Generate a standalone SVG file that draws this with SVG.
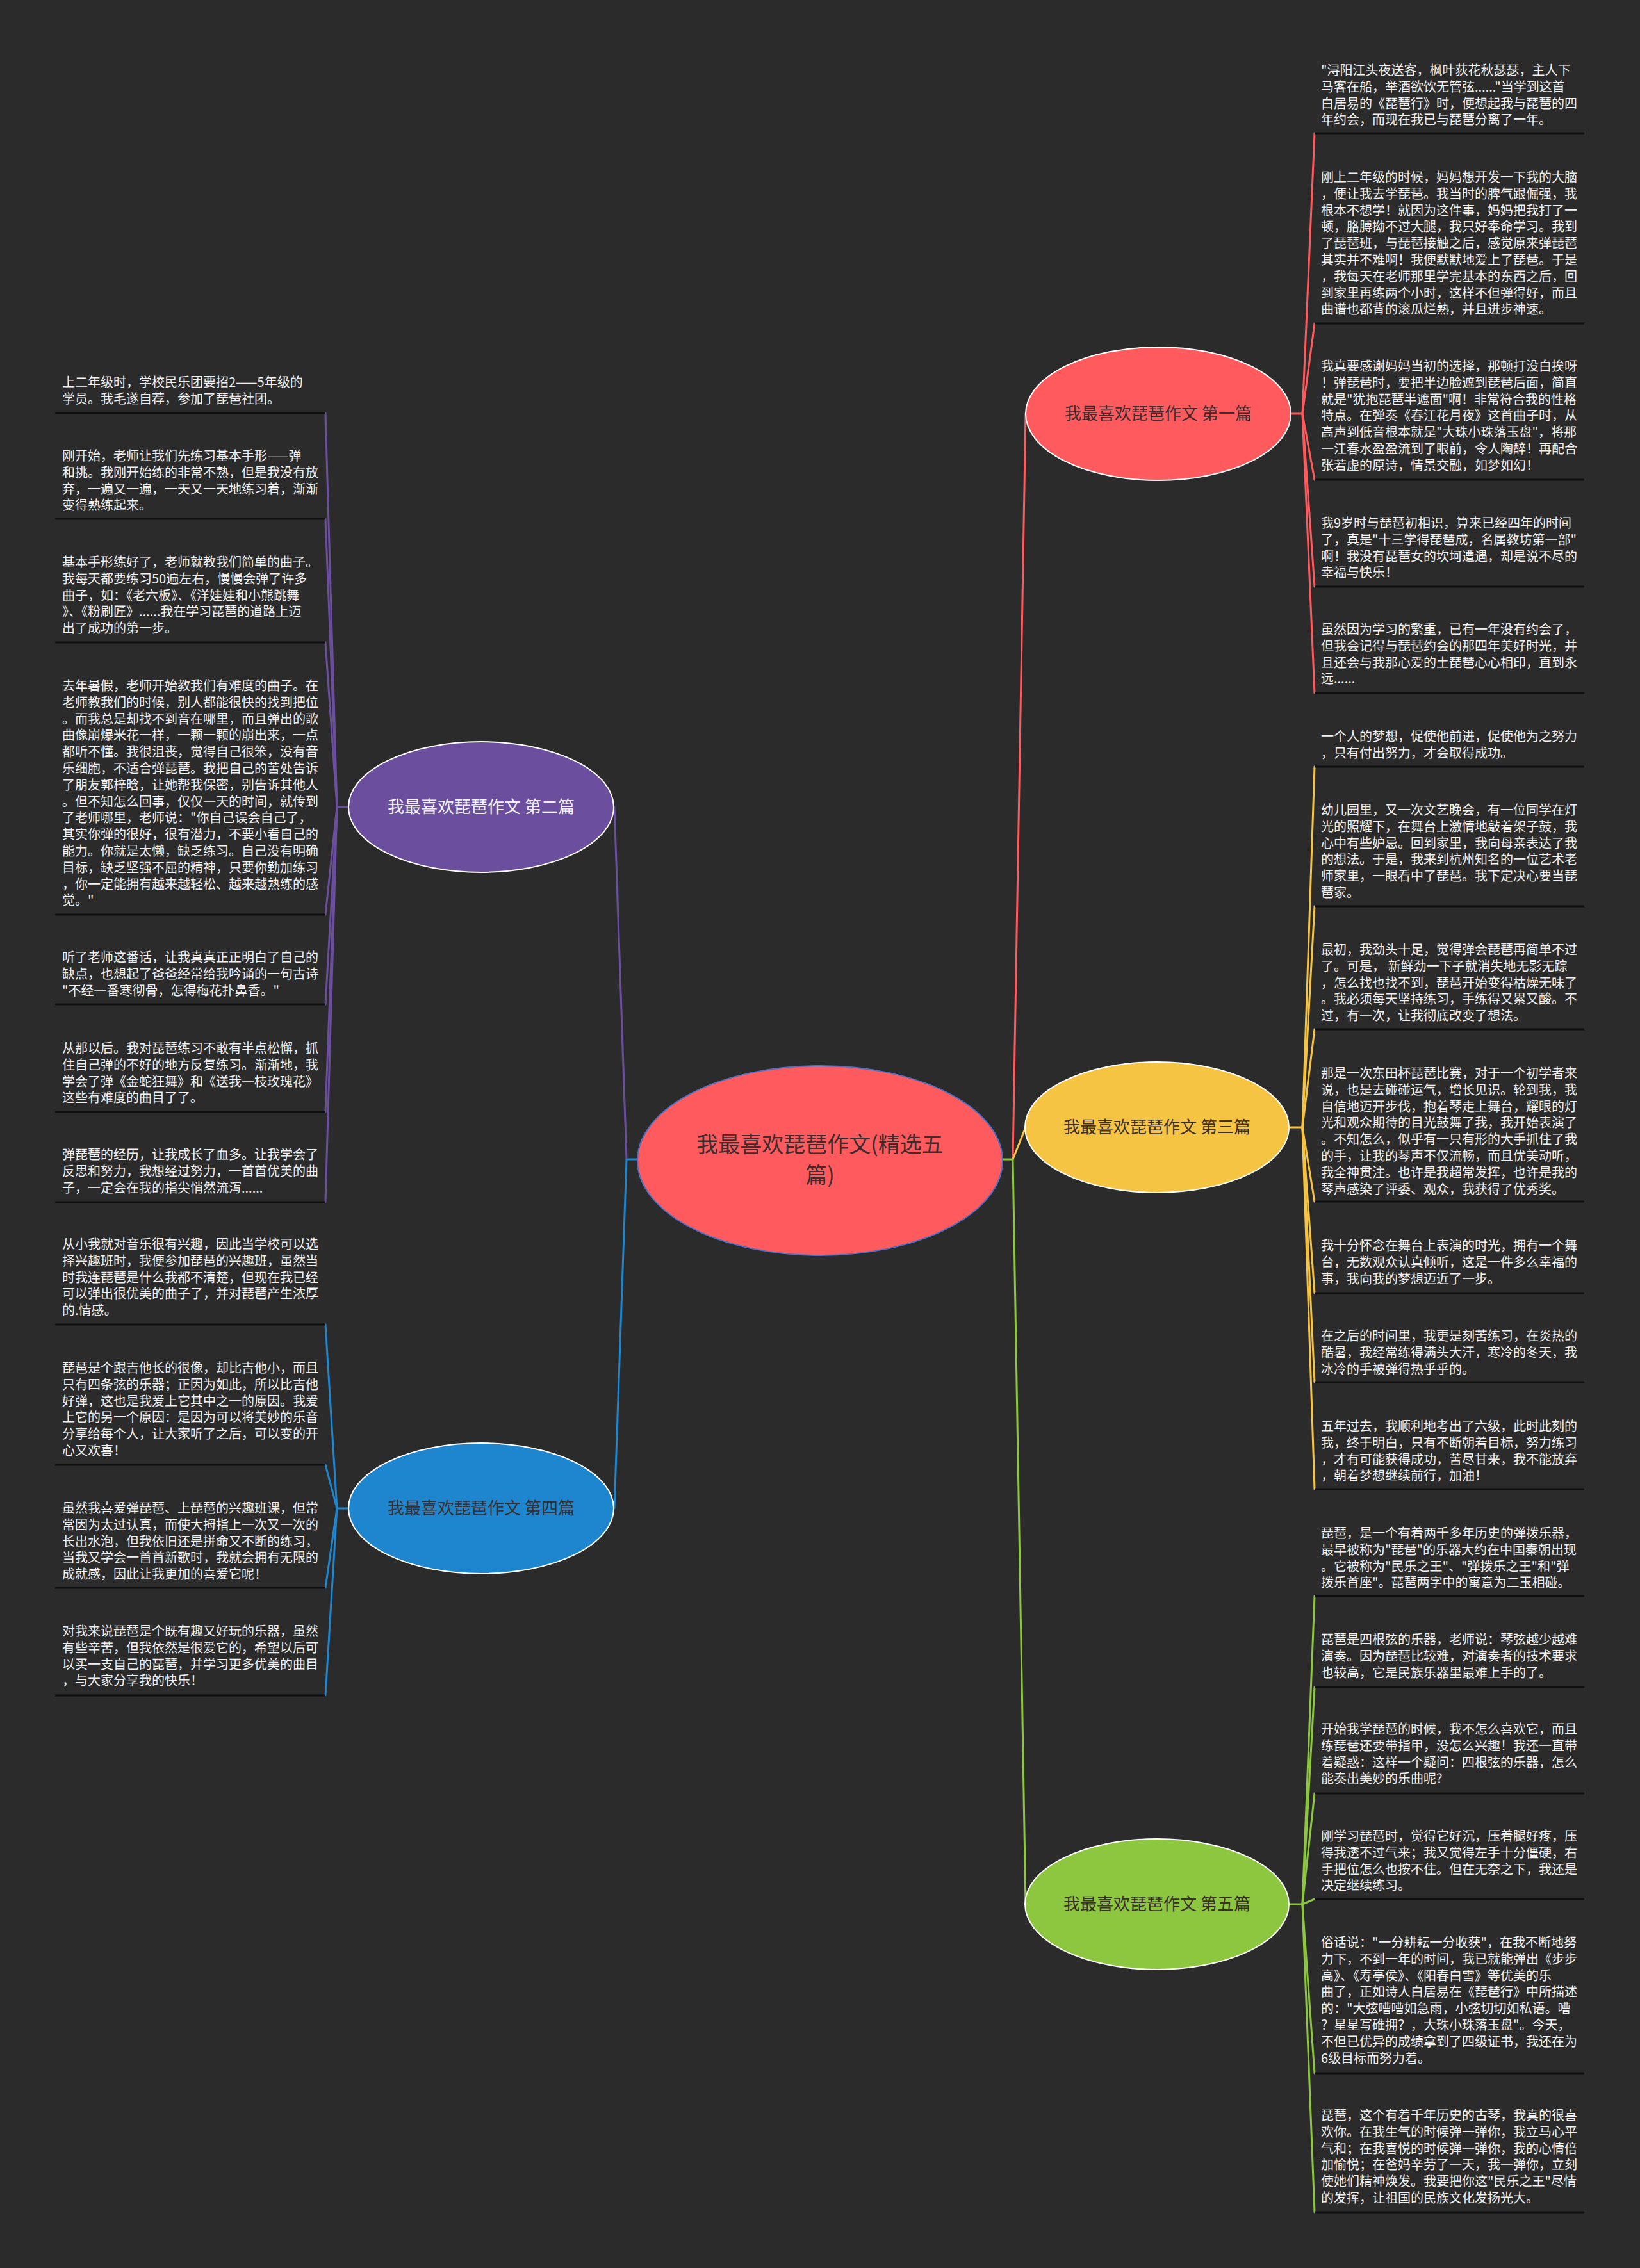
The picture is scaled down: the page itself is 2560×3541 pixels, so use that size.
<svg xmlns="http://www.w3.org/2000/svg" width="2560" height="3541" viewBox="0 0 2560 3541">
<style>
.t{font-family:"Noto Sans CJK SC","Noto Sans",sans-serif;font-size:20px;fill:#f2f2f2}
.nt{font-family:"Noto Sans CJK SC","Noto Sans",sans-serif;font-size:26px;fill:#3a2e2e;text-anchor:middle}
.ct{font-family:"Noto Sans CJK SC","Noto Sans",sans-serif;font-size:34px;fill:#3a2e2e;text-anchor:middle}
.ul{stroke:#0e0e0e;stroke-width:3}
.c{fill:none;stroke-width:3;stroke-linecap:round}
.red{stroke:#FF5A5E}.yel{stroke:#F6C443}.grn{stroke:#8DC63F}.pur{stroke:#6B4F9E}.blu{stroke:#1E86CF}
</style>
<rect width="2560" height="3541" fill="#2b2b2b"/>
<g id="connectors">
<line class="c blu" x1="995" y1="1810" x2="978" y2="1810"/>
<line class="c pur" x1="978" y1="1810" x2="959" y2="1260"/>
<line class="c blu" x1="978" y1="1810" x2="959" y2="2355"/>
<line class="c red" x1="1581" y1="1810" x2="1601" y2="646"/>
<line class="c yel" x1="1581" y1="1810" x2="1601" y2="1760"/>
<line class="c grn" x1="1581" y1="1810" x2="1601" y2="2973"/>
<line class="c grn" x1="1565" y1="1810" x2="1581" y2="1810"/>
<g class="c red">
<line x1="2015" y1="646" x2="2033" y2="646"/>
<line x1="2033" y1="646" x2="2052" y2="208"/>
<line x1="2033" y1="646" x2="2052" y2="505"/>
<line x1="2033" y1="646" x2="2052" y2="749"/>
<line x1="2033" y1="646" x2="2052" y2="916"/>
<line x1="2033" y1="646" x2="2052" y2="1082"/>
</g>
<g class="c yel">
<line x1="2011" y1="1760" x2="2033" y2="1760"/>
<line x1="2033" y1="1760" x2="2052" y2="1197"/>
<line x1="2033" y1="1760" x2="2052" y2="1415"/>
<line x1="2033" y1="1760" x2="2052" y2="1607"/>
<line x1="2033" y1="1760" x2="2052" y2="1876"/>
<line x1="2033" y1="1760" x2="2052" y2="2019"/>
<line x1="2033" y1="1760" x2="2052" y2="2158"/>
<line x1="2033" y1="1760" x2="2052" y2="2325"/>
</g>
<g class="c grn">
<line x1="2011" y1="2973" x2="2033" y2="2973"/>
<line x1="2033" y1="2973" x2="2052" y2="2492"/>
<line x1="2033" y1="2973" x2="2052" y2="2634"/>
<line x1="2033" y1="2973" x2="2052" y2="2800"/>
<line x1="2033" y1="2973" x2="2052" y2="2965"/>
<line x1="2033" y1="2973" x2="2052" y2="3237"/>
<line x1="2033" y1="2973" x2="2052" y2="3454"/>
</g>
<g class="c pur">
<line x1="544" y1="1260" x2="526" y2="1260"/>
<line x1="526" y1="1260" x2="508" y2="645"/>
<line x1="526" y1="1260" x2="508" y2="810"/>
<line x1="526" y1="1260" x2="508" y2="1003"/>
<line x1="526" y1="1260" x2="508" y2="1428"/>
<line x1="526" y1="1260" x2="508" y2="1568"/>
<line x1="526" y1="1260" x2="508" y2="1736"/>
<line x1="526" y1="1260" x2="508" y2="1877"/>
</g>
<g class="c blu">
<line x1="544" y1="2355" x2="526" y2="2355"/>
<line x1="526" y1="2355" x2="508" y2="2068"/>
<line x1="526" y1="2355" x2="508" y2="2287"/>
<line x1="526" y1="2355" x2="508" y2="2479"/>
<line x1="526" y1="2355" x2="508" y2="2647"/>
</g>
</g>
<g id="center">
<ellipse cx="1280" cy="1812" rx="285" ry="148" fill="#FF5A5E" stroke="#4A72C8" stroke-width="2"/>
<text class="ct" x="1280" y="1799">我最喜欢琵琶作文(精选五</text>
<text class="ct" x="1280" y="1847">篇)</text>
</g>
<g id="node1">
<ellipse cx="1808" cy="646" rx="207" ry="104" fill="#FF5A5E" stroke="#ffffff" stroke-width="2"/>
<text class="nt" x="1808" y="655">我最喜欢琵琶作文 第一篇</text>
</g>
<g id="node2">
<ellipse cx="751" cy="1260" rx="207" ry="102" fill="#6B4F9E" stroke="#ffffff" stroke-width="2"/>
<text class="nt" x="751" y="1269" style="fill:#f2f2f2">我最喜欢琵琶作文 第二篇</text>
</g>
<g id="node3">
<ellipse cx="1806" cy="1760" rx="206" ry="102" fill="#F6C443" stroke="#ffffff" stroke-width="2"/>
<text class="nt" x="1806" y="1769">我最喜欢琵琶作文 第三篇</text>
</g>
<g id="node4">
<ellipse cx="751" cy="2355" rx="207" ry="102" fill="#1E86CF" stroke="#ffffff" stroke-width="2"/>
<text class="nt" x="751" y="2364">我最喜欢琵琶作文 第四篇</text>
</g>
<g id="node5">
<ellipse cx="1806" cy="2973" rx="206" ry="102" fill="#8DC63F" stroke="#ffffff" stroke-width="2"/>
<text class="nt" x="1806" y="2982">我最喜欢琵琶作文 第五篇</text>
</g>
<g id="r1"><text class="t" x="2062" y="117"><tspan x="2062">"浔阳江头夜送客，枫叶荻花秋瑟瑟，主人下</tspan><tspan x="2062" dy="25.8">马客在船，举酒欲饮无管弦......"当学到这首</tspan><tspan x="2062" dy="25.8">白居易的《琵琶行》时，便想起我与琵琶的四</tspan><tspan x="2062" dy="25.8">年约会，而现在我已与琵琶分离了一年。</tspan></text><line class="ul" x1="2052" y1="208" x2="2473" y2="208"/></g>
<g id="r2"><text class="t" x="2062" y="284"><tspan x="2062">刚上二年级的时候，妈妈想开发一下我的大脑</tspan><tspan x="2062" dy="25.8">，便让我去学琵琶。我当时的脾气跟倔强，我</tspan><tspan x="2062" dy="25.8">根本不想学！就因为这件事，妈妈把我打了一</tspan><tspan x="2062" dy="25.8">顿，胳膊拗不过大腿，我只好奉命学习。我到</tspan><tspan x="2062" dy="25.8">了琵琶班，与琵琶接触之后，感觉原来弹琵琶</tspan><tspan x="2062" dy="25.8">其实并不难啊！我便默默地爱上了琵琶。于是</tspan><tspan x="2062" dy="25.8">，我每天在老师那里学完基本的东西之后，回</tspan><tspan x="2062" dy="25.8">到家里再练两个小时，这样不但弹得好，而且</tspan><tspan x="2062" dy="25.8">曲谱也都背的滚瓜烂熟，并且进步神速。</tspan></text><line class="ul" x1="2052" y1="505" x2="2473" y2="505"/></g>
<g id="r3"><text class="t" x="2062" y="579"><tspan x="2062">我真要感谢妈妈当初的选择，那顿打没白挨呀</tspan><tspan x="2062" dy="25.8">！弹琵琶时，要把半边脸遮到琵琶后面，简直</tspan><tspan x="2062" dy="25.8">就是"犹抱琵琶半遮面"啊！非常符合我的性格</tspan><tspan x="2062" dy="25.8">特点。在弹奏《春江花月夜》这首曲子时，从</tspan><tspan x="2062" dy="25.8">高声到低音根本就是"大珠小珠落玉盘"，将那</tspan><tspan x="2062" dy="25.8">一江春水盈盈流到了眼前，令人陶醉！再配合</tspan><tspan x="2062" dy="25.8">张若虚的原诗，情景交融，如梦如幻！</tspan></text><line class="ul" x1="2052" y1="749" x2="2473" y2="749"/></g>
<g id="r4"><text class="t" x="2062" y="824"><tspan x="2062">我9岁时与琵琶初相识，算来已经四年的时间</tspan><tspan x="2062" dy="25.8">了，真是"十三学得琵琶成，名属教坊第一部"</tspan><tspan x="2062" dy="25.8">啊！我没有琵琶女的坎坷遭遇，却是说不尽的</tspan><tspan x="2062" dy="25.8">幸福与快乐！</tspan></text><line class="ul" x1="2052" y1="916" x2="2473" y2="916"/></g>
<g id="r5"><text class="t" x="2062" y="990"><tspan x="2062">虽然因为学习的繁重，已有一年没有约会了，</tspan><tspan x="2062" dy="25.8">但我会记得与琵琶约会的那四年美好时光，并</tspan><tspan x="2062" dy="25.8">且还会与我那心爱的土琵琶心心相印，直到永</tspan><tspan x="2062" dy="25.8">远......</tspan></text><line class="ul" x1="2052" y1="1082" x2="2473" y2="1082"/></g>
<g id="r6"><text class="t" x="2062" y="1157"><tspan x="2062">一个人的梦想，促使他前进，促使他为之努力</tspan><tspan x="2062" dy="25.8">，只有付出努力，才会取得成功。</tspan></text><line class="ul" x1="2052" y1="1197" x2="2473" y2="1197"/></g>
<g id="r7"><text class="t" x="2062" y="1272"><tspan x="2062">幼儿园里，又一次文艺晚会，有一位同学在灯</tspan><tspan x="2062" dy="25.8">光的照耀下，在舞台上激情地敲着架子鼓，我</tspan><tspan x="2062" dy="25.8">心中有些妒忌。回到家里，我向母亲表达了我</tspan><tspan x="2062" dy="25.8">的想法。于是，我来到杭州知名的一位艺术老</tspan><tspan x="2062" dy="25.8">师家里，一眼看中了琵琶。我下定决心要当琵</tspan><tspan x="2062" dy="25.8">琶家。</tspan></text><line class="ul" x1="2052" y1="1415" x2="2473" y2="1415"/></g>
<g id="r8"><text class="t" x="2062" y="1490"><tspan x="2062">最初，我劲头十足，觉得弹会琵琶再简单不过</tspan><tspan x="2062" dy="25.8">了。可是， 新鲜劲一下子就消失地无影无踪</tspan><tspan x="2062" dy="25.8">，怎么找也找不到，琵琶开始变得枯燥无味了</tspan><tspan x="2062" dy="25.8">。我必须每天坚持练习，手练得又累又酸。不</tspan><tspan x="2062" dy="25.8">过，有一次，让我彻底改变了想法。</tspan></text><line class="ul" x1="2052" y1="1607" x2="2473" y2="1607"/></g>
<g id="r9"><text class="t" x="2062" y="1683"><tspan x="2062">那是一次东田杯琵琶比赛，对于一个初学者来</tspan><tspan x="2062" dy="25.8">说，也是去碰碰运气，增长见识。轮到我，我</tspan><tspan x="2062" dy="25.8">自信地迈开步伐，抱着琴走上舞台，耀眼的灯</tspan><tspan x="2062" dy="25.8">光和观众期待的目光鼓舞了我，我开始表演了</tspan><tspan x="2062" dy="25.8">。不知怎么，似乎有一只有形的大手抓住了我</tspan><tspan x="2062" dy="25.8">的手，让我的琴声不仅流畅，而且优美动听，</tspan><tspan x="2062" dy="25.8">我全神贯注。也许是我超常发挥，也许是我的</tspan><tspan x="2062" dy="25.8">琴声感染了评委、观众，我获得了优秀奖。</tspan></text><line class="ul" x1="2052" y1="1876" x2="2473" y2="1876"/></g>
<g id="r10"><text class="t" x="2062" y="1952"><tspan x="2062">我十分怀念在舞台上表演的时光，拥有一个舞</tspan><tspan x="2062" dy="25.8">台，无数观众认真倾听，这是一件多么幸福的</tspan><tspan x="2062" dy="25.8">事，我向我的梦想迈近了一步。</tspan></text><line class="ul" x1="2052" y1="2019" x2="2473" y2="2019"/></g>
<g id="r11"><text class="t" x="2062" y="2093"><tspan x="2062">在之后的时间里，我更是刻苦练习，在炎热的</tspan><tspan x="2062" dy="25.8">酷暑，我经常练得满头大汗，寒冷的冬天，我</tspan><tspan x="2062" dy="25.8">冰冷的手被弹得热乎乎的。</tspan></text><line class="ul" x1="2052" y1="2158" x2="2473" y2="2158"/></g>
<g id="r12"><text class="t" x="2062" y="2234"><tspan x="2062">五年过去，我顺利地考出了六级，此时此刻的</tspan><tspan x="2062" dy="25.8">我，终于明白，只有不断朝着目标，努力练习</tspan><tspan x="2062" dy="25.8">，才有可能获得成功，苦尽甘来，我不能放弃</tspan><tspan x="2062" dy="25.8">，朝着梦想继续前行，加油！</tspan></text><line class="ul" x1="2052" y1="2325" x2="2473" y2="2325"/></g>
<g id="r13"><text class="t" x="2062" y="2401"><tspan x="2062">琵琶，是一个有着两千多年历史的弹拨乐器，</tspan><tspan x="2062" dy="25.8">最早被称为"琵琶"的乐器大约在中国秦朝出现</tspan><tspan x="2062" dy="25.8">。它被称为"民乐之王"、"弹拨乐之王"和"弹</tspan><tspan x="2062" dy="25.8">拨乐首座"。琵琶两字中的寓意为二玉相碰。</tspan></text><line class="ul" x1="2052" y1="2492" x2="2473" y2="2492"/></g>
<g id="r14"><text class="t" x="2062" y="2567"><tspan x="2062">琵琶是四根弦的乐器，老师说：琴弦越少越难</tspan><tspan x="2062" dy="25.8">演奏。因为琵琶比较难，对演奏者的技术要求</tspan><tspan x="2062" dy="25.8">也较高，它是民族乐器里最难上手的了。</tspan></text><line class="ul" x1="2052" y1="2634" x2="2473" y2="2634"/></g>
<g id="r15"><text class="t" x="2062" y="2707"><tspan x="2062">开始我学琵琶的时候，我不怎么喜欢它，而且</tspan><tspan x="2062" dy="25.8">练琵琶还要带指甲，没怎么兴趣！我还一直带</tspan><tspan x="2062" dy="25.8">着疑惑：这样一个疑问：四根弦的乐器，怎么</tspan><tspan x="2062" dy="25.8">能奏出美妙的乐曲呢?</tspan></text><line class="ul" x1="2052" y1="2800" x2="2473" y2="2800"/></g>
<g id="r16"><text class="t" x="2062" y="2874"><tspan x="2062">刚学习琵琶时，觉得它好沉，压着腿好疼，压</tspan><tspan x="2062" dy="25.8">得我透不过气来；我又觉得左手十分僵硬，右</tspan><tspan x="2062" dy="25.8">手把位怎么也按不住。但在无奈之下，我还是</tspan><tspan x="2062" dy="25.8">决定继续练习。</tspan></text><line class="ul" x1="2052" y1="2965" x2="2473" y2="2965"/></g>
<g id="r17"><text class="t" x="2062" y="3040"><tspan x="2062">俗话说："一分耕耘一分收获"，在我不断地努</tspan><tspan x="2062" dy="25.8">力下，不到一年的时间，我已就能弹出《步步</tspan><tspan x="2062" dy="25.8">高》、《寿亭侯》、《阳春白雪》等优美的乐</tspan><tspan x="2062" dy="25.8">曲了，正如诗人白居易在《琵琶行》中所描述</tspan><tspan x="2062" dy="25.8">的："大弦嘈嘈如急雨，小弦切切如私语。嘈</tspan><tspan x="2062" dy="25.8">？星星写碓拥？，大珠小珠落玉盘"。今天，</tspan><tspan x="2062" dy="25.8">不但已优异的成绩拿到了四级证书，我还在为</tspan><tspan x="2062" dy="25.8">6级目标而努力着。</tspan></text><line class="ul" x1="2052" y1="3237" x2="2473" y2="3237"/></g>
<g id="r18"><text class="t" x="2062" y="3310"><tspan x="2062">琵琶，这个有着千年历史的古琴，我真的很喜</tspan><tspan x="2062" dy="25.8">欢你。在我生气的时候弹一弹你，我立马心平</tspan><tspan x="2062" dy="25.8">气和；在我喜悦的时候弹一弹你，我的心情倍</tspan><tspan x="2062" dy="25.8">加愉悦；在爸妈辛劳了一天，我一弹你，立刻</tspan><tspan x="2062" dy="25.8">使她们精神焕发。我要把你这"民乐之王"尽情</tspan><tspan x="2062" dy="25.8">的发挥，让祖国的民族文化发扬光大。</tspan></text><line class="ul" x1="2052" y1="3454" x2="2473" y2="3454"/></g>
<g id="l1"><text class="t" x="97" y="604"><tspan x="97">上二年级时，学校民乐团要招2——5年级的</tspan><tspan x="97" dy="25.8">学员。我毛遂自荐，参加了琵琶社团。</tspan></text><line class="ul" x1="86" y1="645" x2="508" y2="645"/></g>
<g id="l2"><text class="t" x="97" y="719"><tspan x="97">刚开始，老师让我们先练习基本手形——弹</tspan><tspan x="97" dy="25.8">和挑。我刚开始练的非常不熟，但是我没有放</tspan><tspan x="97" dy="25.8">弃，一遍又一遍，一天又一天地练习着，渐渐</tspan><tspan x="97" dy="25.8">变得熟练起来。</tspan></text><line class="ul" x1="86" y1="810" x2="508" y2="810"/></g>
<g id="l3"><text class="t" x="97" y="885"><tspan x="97">基本手形练好了，老师就教我们简单的曲子。</tspan><tspan x="97" dy="25.8">我每天都要练习50遍左右，慢慢会弹了许多</tspan><tspan x="97" dy="25.8">曲子，如：《老六板》、《洋娃娃和小熊跳舞</tspan><tspan x="97" dy="25.8">》、《粉刷匠》......我在学习琵琶的道路上迈</tspan><tspan x="97" dy="25.8">出了成功的第一步。</tspan></text><line class="ul" x1="86" y1="1003" x2="508" y2="1003"/></g>
<g id="l4"><text class="t" x="97" y="1078"><tspan x="97">去年暑假，老师开始教我们有难度的曲子。在</tspan><tspan x="97" dy="25.8">老师教我们的时候，别人都能很快的找到把位</tspan><tspan x="97" dy="25.8">。而我总是却找不到音在哪里，而且弹出的歌</tspan><tspan x="97" dy="25.8">曲像崩爆米花一样，一颗一颗的崩出来，一点</tspan><tspan x="97" dy="25.8">都听不懂。我很沮丧，觉得自己很笨，没有音</tspan><tspan x="97" dy="25.8">乐细胞，不适合弹琵琶。我把自己的苦处告诉</tspan><tspan x="97" dy="25.8">了朋友郭梓晗，让她帮我保密，别告诉其他人</tspan><tspan x="97" dy="25.8">。但不知怎么回事，仅仅一天的时间，就传到</tspan><tspan x="97" dy="25.8">了老师哪里，老师说："你自己误会自己了，</tspan><tspan x="97" dy="25.8">其实你弹的很好，很有潜力，不要小看自己的</tspan><tspan x="97" dy="25.8">能力。你就是太懒，缺乏练习。自己没有明确</tspan><tspan x="97" dy="25.8">目标，缺乏坚强不屈的精神，只要你勤加练习</tspan><tspan x="97" dy="25.8">，你一定能拥有越来越轻松、越来越熟练的感</tspan><tspan x="97" dy="25.8">觉。"</tspan></text><line class="ul" x1="86" y1="1428" x2="508" y2="1428"/></g>
<g id="l5"><text class="t" x="97" y="1502"><tspan x="97">听了老师这番话，让我真真正正明白了自己的</tspan><tspan x="97" dy="25.8">缺点，也想起了爸爸经常给我吟诵的一句古诗</tspan><tspan x="97" dy="25.8">"不经一番寒彻骨，怎得梅花扑鼻香。"</tspan></text><line class="ul" x1="86" y1="1568" x2="508" y2="1568"/></g>
<g id="l6"><text class="t" x="97" y="1644"><tspan x="97">从那以后。我对琵琶练习不敢有半点松懈，抓</tspan><tspan x="97" dy="25.8">住自己弹的不好的地方反复练习。渐渐地，我</tspan><tspan x="97" dy="25.8">学会了弹《金蛇狂舞》和《送我一枝玫瑰花》</tspan><tspan x="97" dy="25.8">这些有难度的曲目了了。</tspan></text><line class="ul" x1="86" y1="1736" x2="508" y2="1736"/></g>
<g id="l7"><text class="t" x="97" y="1810"><tspan x="97">弹琵琶的经历，让我成长了血多。让我学会了</tspan><tspan x="97" dy="25.8">反思和努力，我想经过努力，一首首优美的曲</tspan><tspan x="97" dy="25.8">子，一定会在我的指尖悄然流泻......</tspan></text><line class="ul" x1="86" y1="1877" x2="508" y2="1877"/></g>
<g id="l8"><text class="t" x="97" y="1950"><tspan x="97">从小我就对音乐很有兴趣，因此当学校可以选</tspan><tspan x="97" dy="25.8">择兴趣班时，我便参加琵琶的兴趣班，虽然当</tspan><tspan x="97" dy="25.8">时我连琵琶是什么我都不清楚，但现在我已经</tspan><tspan x="97" dy="25.8">可以弹出很优美的曲子了，并对琵琶产生浓厚</tspan><tspan x="97" dy="25.8">的.情感。</tspan></text><line class="ul" x1="86" y1="2068" x2="508" y2="2068"/></g>
<g id="l9"><text class="t" x="97" y="2143"><tspan x="97">琵琶是个跟吉他长的很像，却比吉他小，而且</tspan><tspan x="97" dy="25.8">只有四条弦的乐器；正因为如此，所以比吉他</tspan><tspan x="97" dy="25.8">好弹，这也是我爱上它其中之一的原因。我爱</tspan><tspan x="97" dy="25.8">上它的另一个原因：是因为可以将美妙的乐音</tspan><tspan x="97" dy="25.8">分享给每个人，让大家听了之后，可以变的开</tspan><tspan x="97" dy="25.8">心又欢喜！</tspan></text><line class="ul" x1="86" y1="2287" x2="508" y2="2287"/></g>
<g id="l10"><text class="t" x="97" y="2362"><tspan x="97">虽然我喜爱弹琵琶、上琵琶的兴趣班课，但常</tspan><tspan x="97" dy="25.8">常因为太过认真，而使大拇指上一次又一次的</tspan><tspan x="97" dy="25.8">长出水泡，但我依旧还是拼命又不断的练习，</tspan><tspan x="97" dy="25.8">当我又学会一首首新歌时，我就会拥有无限的</tspan><tspan x="97" dy="25.8">成就感，因此让我更加的喜爱它呢！</tspan></text><line class="ul" x1="86" y1="2479" x2="508" y2="2479"/></g>
<g id="l11"><text class="t" x="97" y="2554"><tspan x="97">对我来说琵琶是个既有趣又好玩的乐器，虽然</tspan><tspan x="97" dy="25.8">有些辛苦，但我依然是很爱它的，希望以后可</tspan><tspan x="97" dy="25.8">以买一支自己的琵琶，并学习更多优美的曲目</tspan><tspan x="97" dy="25.8">，与大家分享我的快乐！</tspan></text><line class="ul" x1="86" y1="2647" x2="508" y2="2647"/></g>
</svg>
